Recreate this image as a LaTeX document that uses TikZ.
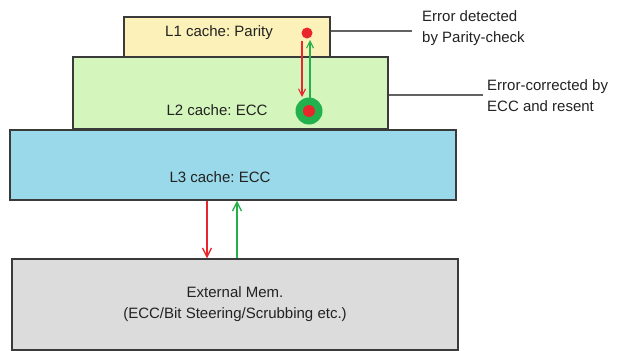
\documentclass[tikz,border=0pt]{standalone}
\usepackage{fontspec}
\setmainfont{Liberation Sans}
\usetikzlibrary{arrows.meta}
\frenchspacing
\definecolor{bordc}{HTML}{3A3A3A}
\definecolor{lone}{HTML}{FCF1B9}
\definecolor{ltwo}{HTML}{D4F6BC}
\definecolor{lthree}{HTML}{99D9EA}
\definecolor{extm}{HTML}{DCDCDC}
\definecolor{redc}{HTML}{E8262B}
\definecolor{greenc}{HTML}{22B14C}
\definecolor{txtc}{HTML}{222222}
\tikzset{
  box/.style={draw=bordc, line width=1.3pt, rectangle, inner sep=0pt},
  lbl/.style={font=\fontsize{15}{21}\selectfont, text=txtc, inner sep=0pt, align=center},
  side/.style={font=\fontsize{15}{21}\selectfont, text=txtc, inner sep=0pt, align=left, anchor=west},
  redarr/.style={draw=redc, line width=1.3pt, -{Straight Barb[length=9pt,width=9pt,line width=1.3pt]}},
  greenarr/.style={draw=greenc, line width=1.3pt, -{Straight Barb[length=9pt,width=9pt,line width=1.3pt]}},
  redarrs/.style={draw=redc, line width=1.1pt, -{Straight Barb[length=7pt,width=7pt,line width=1.1pt]}},
  greenarrs/.style={draw=greenc, line width=1.1pt, -{Straight Barb[length=7pt,width=7pt,line width=1.1pt]}},
  leader/.style={draw=bordc!80, line width=1.2pt}
}
\begin{document}
\begin{tikzpicture}[x=1pt,y=-1pt]
\useasboundingbox (0,0) rectangle (622,351);
% boxes
\node[box, fill=lone, minimum width=206pt, minimum height=40pt] (l1) at (227,37) {};
\node[box, fill=ltwo, minimum width=315pt, minimum height=72pt] (l2) at (230.5,93) {};
\node[box, fill=lthree, minimum width=446pt, minimum height=70pt] (l3) at (233,165) {};
\node[box, fill=extm, minimum width=446pt, minimum height=91pt] (ext) at (235,304.5) {};
% texts
\node[lbl] (t1) at (219,33) {L1 cache: Parity};
\node[lbl] (t2) at (217,110) {L2 cache: ECC};
\node[lbl] (t3) at (220,177) {L3 cache: ECC};
\node[lbl] (t4) at (235,304) {External Mem.\\(ECC/Bit Steering/Scrubbing etc.)};
% dots
\node[circle, fill=redc, minimum size=11pt, inner sep=0pt] (d1) at (307,33) {};
\node[circle, fill=greenc, minimum size=27pt, inner sep=0pt] (g2) at (309,111) {};
\node[circle, fill=redc, minimum size=12pt, inner sep=0pt] (d2) at (309,111) {};
% L1-L2 arrows
\coordinate (ra) at (302,41);
\coordinate (rb) at (302,97);
\coordinate (ga) at (310,98);
\coordinate (gb) at (310,40);
\draw[redarrs] (ra) -- (rb);
\draw[greenarrs] (ga) -- (gb);
% L3-ext arrows
\draw[redarr] (l3.south -| 207,0) -- (ext.north -| 207,0);
\draw[greenarr] (ext.north -| 237,0) -- (l3.south -| 237,0);
% leaders
\coordinate (e1) at (412,31);
\coordinate (e2) at (483,95);
\draw[leader] (l1.east |- e1) -- (e1);
\draw[leader] (l2.east |- e2) -- (e2);
\node[side] (s1) at (422,28) {Error detected\\by Parity-check};
\node[side] (s2) at (487,96) {Error-corrected by\\ECC and resent};
\end{tikzpicture}
\end{document}
